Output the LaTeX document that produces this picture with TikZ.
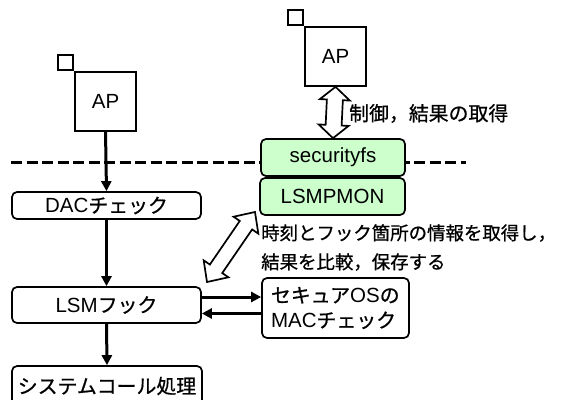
\documentclass[tikz,border=0pt]{standalone}
\usepackage{fontspec}
\setmainfont{Liberation Sans}
\newfontfamily\jp{Noto Sans CJK JP}[Scale=0.97, FakeBold=0.8]
\usetikzlibrary{arrows.meta,calc}

\tikzset{
  box/.style={draw, line width=1.7pt, rounded corners=5pt, inner sep=0pt},
  apbox/.style={draw, line width=1.7pt, minimum width=61pt, minimum height=59pt, inner sep=0pt},
  tab/.style={draw, line width=1.7pt, minimum width=15pt, minimum height=15pt, inner sep=0pt, anchor=south east},
  flow/.style={line width=3pt, -{Triangle[length=10pt,width=10pt]}},
  hollow/.style={draw, line width=1.7pt, fill=white, line join=miter},
  sep/.style={line width=3pt, dash pattern=on 11pt off 4.5pt},
  kernel/.style={box, fill=green!20},
  label/.style={inner sep=0pt, anchor=west}
}

% hollow double-headed arrow between two named coordinates:
% #3 head length, #4 head half-width, #5 shaft half-width
\newcommand\hollowpair[5]{%
  \coordinate (#1-h) at ($(#1)!#3!(#2)$);
  \coordinate (#2-h) at ($(#2)!#3!(#1)$);
  \path[hollow] (#1)
    -- ($(#1-h)!#4!90:(#2)$) -- ($(#1-h)!#5!90:(#2)$)
    -- ($(#2-h)!#5!-90:(#1)$) -- ($(#2-h)!#4!-90:(#1)$)
    -- (#2)
    -- ($(#2-h)!#4!90:(#1)$) -- ($(#2-h)!#5!90:(#1)$)
    -- ($(#1-h)!#5!-90:(#2)$) -- ($(#1-h)!#4!-90:(#2)$)
    -- cycle;}

\begin{document}
\begin{tikzpicture}[x=1pt, y=-1pt, font=\fontsize{20.5}{24}\selectfont]
\useasboundingbox (0,0) rectangle (562,399);

% user / kernel boundary
\coordinate (sepL) at (11,162.5);
\coordinate (sepR) at (466,162.5);
\draw[sep] (sepL) -- (sepR);

% applications
\node[apbox] (ap1) at (105.5,101.5) {AP};
\node[tab] (tab1) at (ap1.north west) {};
\node[apbox] (ap2) at (335.5,56.5) {AP};
\node[tab] (tab2) at (ap2.north west) {};

% system call path
\node[box, minimum width=189pt, minimum height=27pt] (dac) at (106.5,205.5) {DAC{\jp チェック}};
\node[box, minimum width=189pt, minimum height=36pt] (lsm) at (106.5,305) {LSM{\jp フック}};
\node[box, minimum width=190pt, minimum height=40pt] (sys) at (107,386) {\jp システムコール処理};

% monitor module
\node[kernel, minimum width=144pt, minimum height=37pt] (secfs) at (333,157.5) {securityfs};
\node[kernel, minimum width=145pt, minimum height=37pt] (mon) at (332.5,196.5) {LSMPMON};

% secure OS access check
\node[box, minimum width=147pt, minimum height=60pt, text width=129pt, align=left,
      font=\fontsize{20.5}{25}\selectfont] (mac) at (335.5,308)
      {{\jp セキュア}OS{\jp の}\\MAC{\jp チェック}};

% flow arrows
\draw[flow] (ap1.south) -- (dac.north);
\draw[flow] (dac.south) -- (lsm.north);
\draw[flow] (lsm.south) -- (sys.north);
\coordinate (callY) at (0,297);
\coordinate (backY) at (0,313.5);
\draw[flow] (lsm.east |- callY) -- (mac.west |- callY);
\draw[flow] (mac.west |- backY) -- (lsm.east |- backY);

% control channel between AP and securityfs
\coordinate (v1) at (ap2.south);
\coordinate (v2) at (secfs.north);
\hollowpair{v1}{v2}{13pt}{15pt}{8pt}
\node[label] (ctrl) at (349,113.5) {\jp 制御，結果の取得};

% hook information channel
\coordinate (d1) at (207,282);
\coordinate (d2) at (255,212);
\hollowpair{d1}{d2}{16pt}{15pt}{7.5pt}
\node[label, align=left, font=\fontsize{19}{29}\selectfont] (info) at (261,247.5)
  {\jp 時刻とフック箇所の情報を取得し\makebox[8pt][l]{，}\\\jp 結果を比較，保存する};
\end{tikzpicture}
\end{document}
